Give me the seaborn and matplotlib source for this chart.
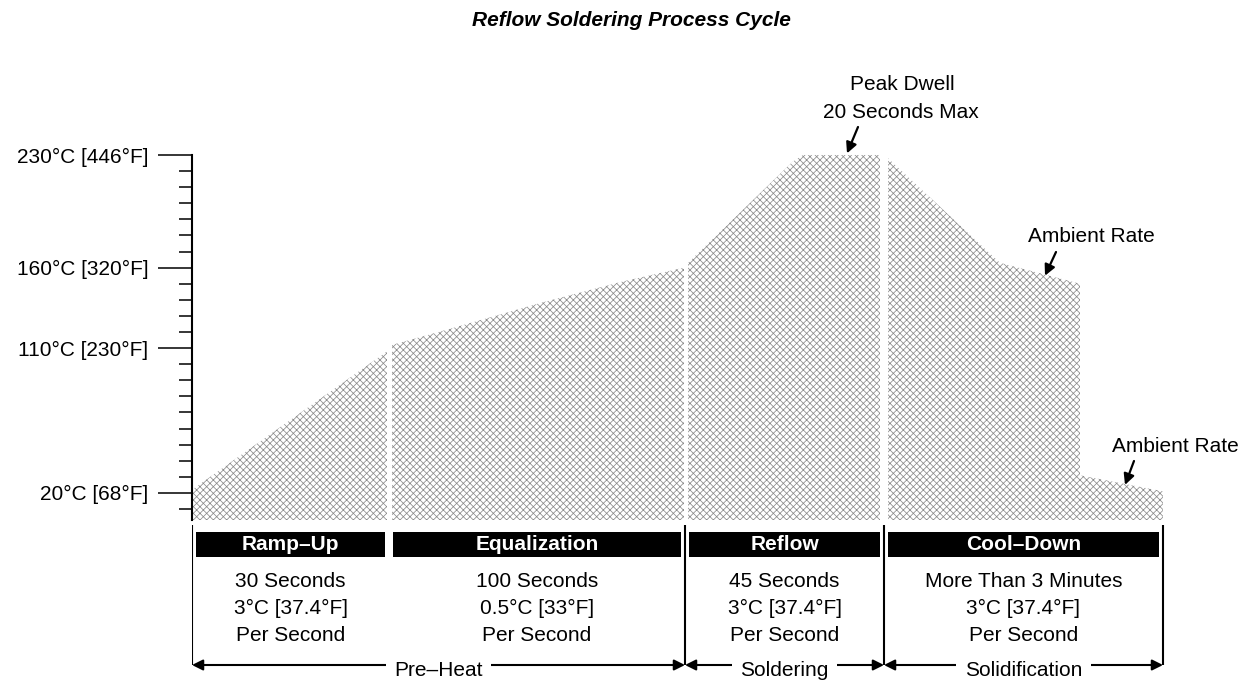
import numpy as np
import matplotlib
matplotlib.use("Agg")
import matplotlib.pyplot as plt
import seaborn as sns

# ---------------- data ----------------
ramp_t = [0, 195]
ramp_temp = [22, 108]
equal_t = [200, 258, 348, 428, 492]
equal_temp = [112, 122, 138, 151, 160]
reflow_t = [496, 601, 611, 688]
reflow_temp = [163, 226, 230, 230]
cool_t = [696, 808, 888, 888, 971]
cool_temp = [228, 163, 150, 31, 21]

ytick_vals = [20, 110, 160, 230]
ytick_labels = ["20°C [68°F]", "110°C [230°F]", "160°C [320°F]", "230°C [446°F]"]

phase_names = ["Ramp–Up", "Equalization", "Reflow", "Cool–Down"]
phase_edges = [0, 197, 493, 692, 971]
phase_durations = ["30 Seconds", "100 Seconds", "45 Seconds", "More Than 3 Minutes"]
phase_rates = ["3°C [37.4°F]", "0.5°C [33°F]", "3°C [37.4°F]", "3°C [37.4°F]"]
phase_per = ["Per Second", "Per Second", "Per Second", "Per Second"]

stage_names = ["Pre–Heat", "Soldering", "Solidification"]
stage_edges = [0, 493, 692, 971]

peak_point = (655, 231)
ambient1_point = (853, 155)
ambient2_point = (933, 25)

# ---------------- style ----------------
sns.set_theme(style="white")
plt.rcParams['font.family'] = ['Liberation Sans', 'DejaVu Sans']
plt.rcParams['hatch.linewidth'] = 0.55
plt.rcParams['text.color'] = 'black'
plt.rcParams['ytick.labelcolor'] = 'black'
plt.rcParams['ytick.color'] = 'black'

W, H = 1246, 681
fig = plt.figure(figsize=(W / 100, H / 100), dpi=100)
ax = fig.add_axes([192 / W, (H - 520) / H, (W - 192) / W, 520 / H])
ax.set_xlim(0, 1054)
ax.set_ylim(3.2, 326.3)
ax.patch.set_alpha(0)

segments = [(ramp_t, ramp_temp), (equal_t, equal_temp),
            (reflow_t, reflow_temp), (cool_t, cool_temp)]
for t, temp in segments:
    ax.fill_between(t, temp, 0, facecolor='white', edgecolor='#8c8c8c',
                    hatch='xxxxx', linewidth=0)

for s in ['top', 'right', 'bottom']:
    ax.spines[s].set_visible(False)
ax.spines['left'].set_bounds(3.2, 230)
ax.spines['left'].set_linewidth(1.5)
ax.spines['left'].set_color('black')
ax.set_xticks([])
ax.set_yticks(ytick_vals, ytick_labels)
ax.set_yticks(np.arange(10, 230, 10), minor=True)
ax.tick_params(axis='y', which='major', length=24.5, width=1.1, direction='out',
               pad=7, labelsize=15, color='black', labelcolor='black', left=True)
ax.tick_params(axis='y', which='minor', length=9.5, width=1.1, direction='out',
               color='black', left=True)

fig.text(631 / W, 1 - 20 / H, "Reflow Soldering Process Cycle", ha='center',
         va='center', fontsize=15, fontweight='bold', fontstyle='italic',
         color='black')

arrow_kw = dict(arrowstyle='-|>', color='black', lw=1.6, mutation_scale=16,
                shrinkA=0, shrinkB=0)

def fig_text(x, y, s):
    fig.text(x / W, 1 - y / H, s, ha='center', va='center', fontsize=15,
             color='black')

# Peak dwell
ax.annotate('', xy=peak_point, xytext=(858, H - 127), textcoords='figure pixels',
            arrowprops=arrow_kw)
fig_text(902, 85, "Peak Dwell")
fig_text(901, 113, "20 Seconds Max")
# Ambient rate 1
ax.annotate('', xy=ambient1_point, xytext=(1056, H - 252), textcoords='figure pixels',
            arrowprops=arrow_kw)
fig_text(1091, 237, "Ambient Rate")
# Ambient rate 2
ax.annotate('', xy=ambient2_point, xytext=(1134, H - 461), textcoords='figure pixels',
            arrowprops=arrow_kw)
fig_text(1175, 447, "Ambient Rate")

# ---------------- bottom table ----------------
ax2 = fig.add_axes([192 / W, 0, (W - 192) / W, (H - 520) / H])
ax2.set_xlim(0, 1054)
ax2.set_ylim(161, 0)
ax2.axis('off')

edges = np.array(phase_edges, dtype=float)
centers = (edges[:-1] + edges[1:]) / 2
widths = np.diff(edges) - 8
ax2.bar(centers, 25, bottom=12, width=widths, color='black', linewidth=0)
for c, name, d, r, p in zip(centers, phase_names, phase_durations, phase_rates, phase_per):
    ax2.text(c, 24.5, name, ha='center', va='center', color='white',
             fontsize=15, fontweight='bold')
    ax2.text(c, 67, d, ha='center', va='baseline', fontsize=15, color='black')
    ax2.text(c, 94, r, ha='center', va='baseline', fontsize=15, color='black')
    ax2.text(c, 121, p, ha='center', va='baseline', fontsize=15, color='black')

ax2.vlines(stage_edges, 5, 145, color='black', lw=1.5)
sedges = np.array(stage_edges, dtype=float)
for a, b, name in zip(sedges[:-1], sedges[1:], stage_names):
    ax2.annotate('', xy=(a, 145), xytext=(b, 145),
                 arrowprops=dict(arrowstyle='<|-|>', color='black', lw=1.5,
                                 mutation_scale=16, shrinkA=0, shrinkB=0))
    ax2.text((a + b) / 2, 156, name, ha='center', va='baseline', fontsize=15,
             color='black',
             bbox=dict(boxstyle='square,pad=0.4', fc='white', ec='none'))

fig.savefig('out.png', dpi=100)
